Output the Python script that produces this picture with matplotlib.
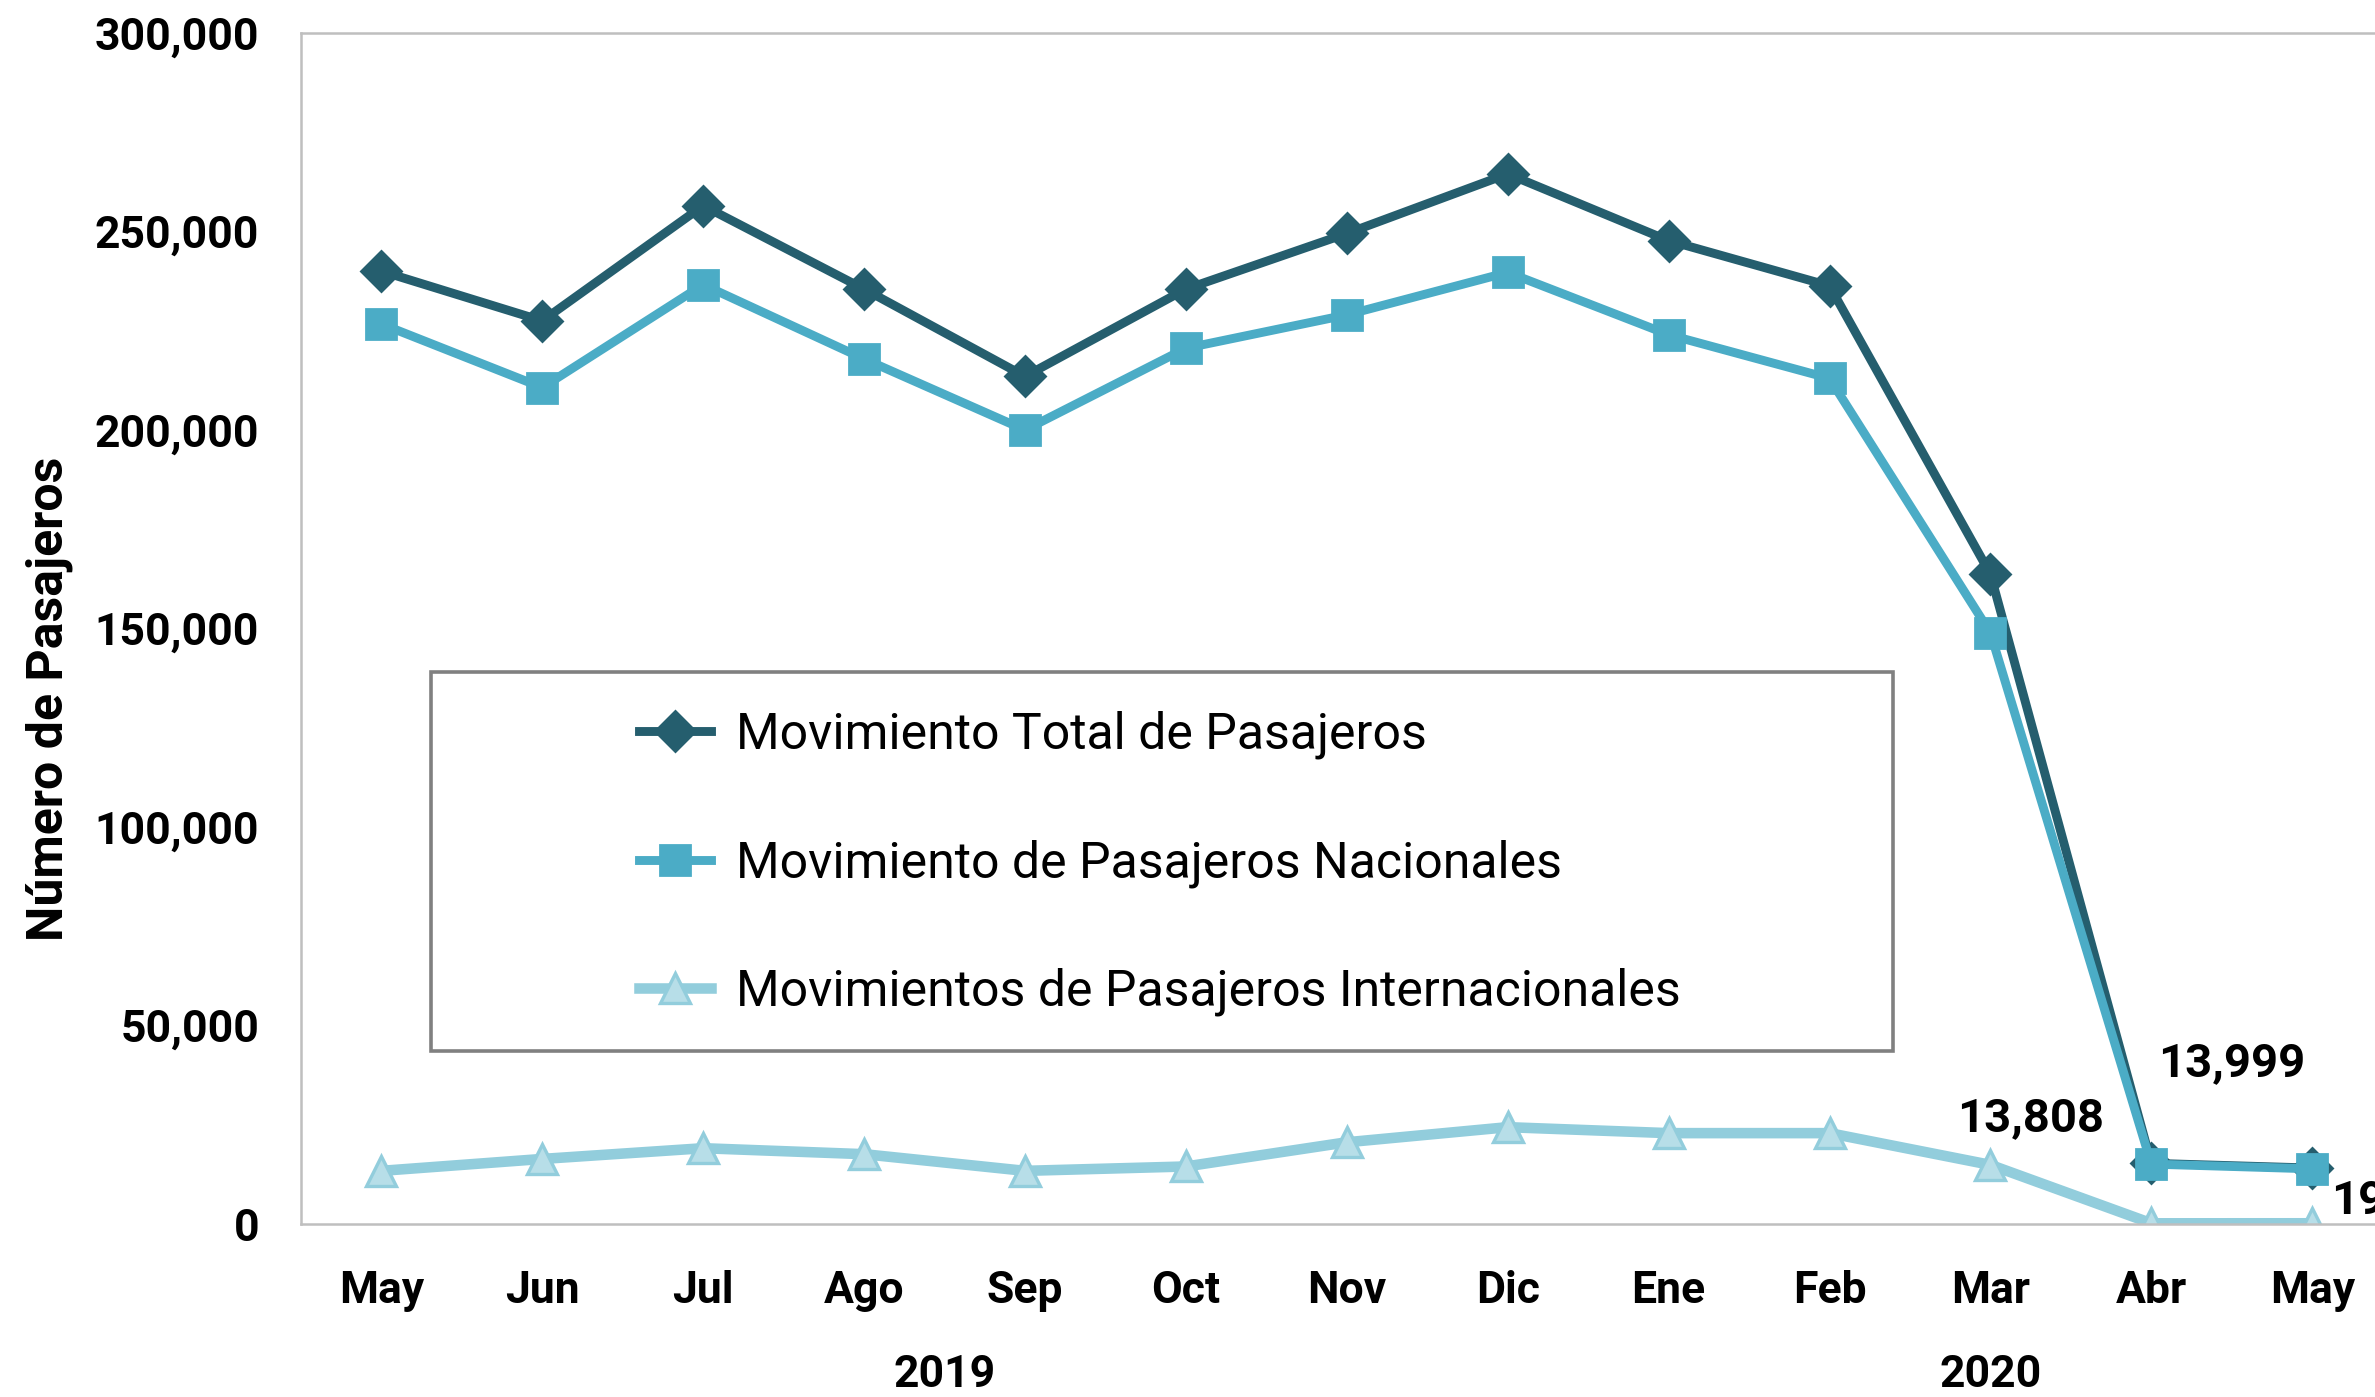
import matplotlib
matplotlib.use("Agg")
import matplotlib.pyplot as plt
from matplotlib.patches import Rectangle
from matplotlib.ticker import FuncFormatter

# ── data ──────────────────────────────────────────────────────────────────────
MONTHS = ["May", "Jun", "Jul", "Ago", "Sep", "Oct", "Nov", "Dic",
          "Ene", "Feb", "Mar", "Abr", "May"]
TOTAL = [240000, 227500, 256500, 235500, 213500, 235500, 249500, 264500,
         247700, 236300, 163700, 15300, 14100]
NACIONAL = [226700, 210700, 236600, 217900, 200000, 220600, 229000, 239700,
            224000, 213000, 148900, 15100, 13900]
INTERNACIONAL = [13400, 16400, 19100, 17600, 13400, 14500, 20600, 24400,
                 22900, 22900, 14900, 190, 200]
LABELS = ["Movimiento Total de Pasajeros",
          "Movimiento de Pasajeros Nacionales",
          "Movimientos de Pasajeros Internacionales"]
YEARS = ["2019", "2020"]
YEAR_CENTERS = [3.5, 10]
ANNOT_TEXT = ["13,808", "13,999", "192"]
ANNOT_X = [10.25, 11.5, 12.12]
ANNOT_Y = [26700, 40500, 5700]

C_TOTAL = "#255E6E"
C_NAC = "#4BACC6"
C_INT = "#92CDDC"

BOLD = ["Roboto", "DejaVu Sans"]
LEGFONT = ["Roboto", "DejaVu Sans"]

fig = plt.figure(figsize=(11.875, 6.985), dpi=200)
ax = fig.add_axes([0.1267, 0.1238, 0.8733, 0.8526])

x = list(range(len(MONTHS)))
ax.plot(x, TOTAL, color=C_TOTAL, lw=3.2, marker="D", ms=10,
        mfc=C_TOTAL, mec=C_TOTAL, label=LABELS[0], zorder=3)
ax.plot(x, NACIONAL, color=C_NAC, lw=3.2, marker="s", ms=11,
        mfc=C_NAC, mec=C_NAC, label=LABELS[1], zorder=4)
ax.plot(x, INTERNACIONAL, color=C_INT, lw=3.8, marker="^", ms=10.5,
        mfc="#B7DEE8", mec=C_INT, mew=1.2, label=LABELS[2], zorder=2)

ax.set_xlim(-0.5, 12.39)
ax.set_ylim(0, 300000)
ax.set_yticks(range(0, 300001, 50000))
ax.yaxis.set_major_formatter(FuncFormatter(lambda v, p: f"{int(v):,}"))
ax.set_xticks(x)
ax.set_xticklabels(MONTHS)
ax.tick_params(axis="both", length=0, labelsize=16)
ax.tick_params(axis="x", pad=16.5)
ax.tick_params(axis="y", pad=15)
for lab in ax.get_xticklabels() + ax.get_yticklabels():
    lab.set_family(BOLD)
    lab.set_fontweight("bold")

for s in ["left", "bottom", "top"]:
    ax.spines[s].set_color("#BFBFBF")
    ax.spines[s].set_linewidth(0.9)
ax.spines["right"].set_visible(False)

ax.set_ylabel("Número de Pasajeros", family=BOLD, fontweight="bold",
              fontsize=18)
ax.yaxis.set_label_coords(-0.110, 0.441)

# year labels under the month ticks
for yr, xc in zip(YEARS, YEAR_CENTERS):
    ax.text(xc, -0.127, yr, transform=ax.get_xaxis_transform(),
            ha="center", va="center", family=BOLD, fontweight="bold",
            fontsize=16, clip_on=False)

for t, xa, ya in zip(ANNOT_TEXT, ANNOT_X, ANNOT_Y):
    ha = "left" if t == "192" else "center"
    ax.text(xa, ya, t, ha=ha, va="center", family=BOLD, fontweight="bold",
            fontsize=17, clip_on=False, zorder=5)

# legend frame drawn separately so the entries can sit indented inside it
ax.add_patch(Rectangle((0.0628, 0.1450), 0.7049, 0.3181, transform=ax.transAxes,
                       facecolor="white", edgecolor="#808080", lw=1.3,
                       zorder=6))
leg = ax.legend(loc="center left", bbox_to_anchor=(0.1629, 0.3028),
                prop={"family": LEGFONT, "size": 18}, frameon=False,
                borderpad=0, labelspacing=1.6, handlelength=1.45,
                handletextpad=0.5, borderaxespad=0)
leg.set_zorder(7)

fig.savefig("out.png", dpi=200)
